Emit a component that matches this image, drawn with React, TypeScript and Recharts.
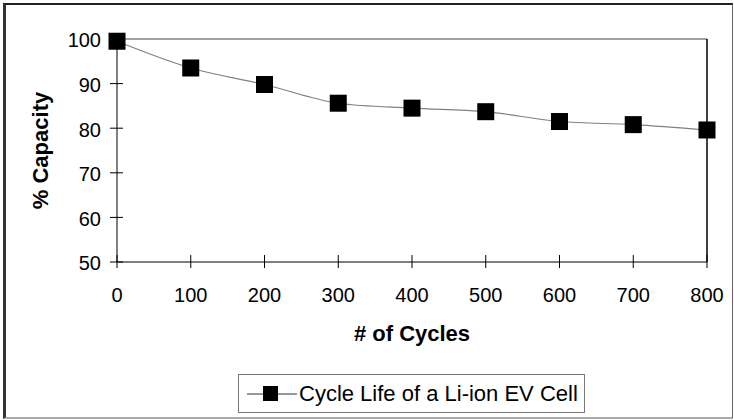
import React from 'react';
import { LineChart, Line, XAxis, YAxis, ReferenceLine, Legend } from 'recharts';

const cycles = [0, 100, 200, 300, 400, 500, 600, 700, 800];
const capacity = [99.5, 93.5, 89.8, 85.6, 84.5, 83.7, 81.5, 80.8, 79.6];
const xTicks = [0, 100, 200, 300, 400, 500, 600, 700, 800];
const yTicks = [50, 60, 70, 80, 90, 100];
const seriesName = 'Cycle Life of a Li-ion EV Cell';
const xTitle = '# of Cycles';
const yTitle = '% Capacity';

const data = cycles.map((c, i) => ({ cycles: c, capacity: capacity[i] }));

const FONT = '"Liberation Sans", Arial, Helvetica, sans-serif';

const XTick = (props: any) => {
  const { x, y, payload } = props;
  return (
    <g>
      <line x1={x} x2={x} y1={y - 7} y2={y + 6} stroke="#000" strokeWidth={1} />
      <text x={x} y={y + 40} textAnchor="middle" fontSize={20} fontFamily={FONT} fill="#000">
        {payload.value}
      </text>
    </g>
  );
};

const YTick = (props: any) => {
  const { x, y, payload } = props;
  return (
    <g>
      <line x1={x - 7} x2={x + 6} y1={y} y2={y} stroke="#000" strokeWidth={1} />
      <text x={x - 16} y={y} dy="0.42em" textAnchor="end" fontSize={20} fontFamily={FONT} fill="#000">
        {payload.value}
      </text>
    </g>
  );
};

const SquareDot = (props: any) => {
  const { cx, cy, index } = props;
  if (cx == null || cy == null) return null;
  return <rect key={`d-${index}`} x={cx - 8.5} y={cy - 8.5} width={17} height={17} fill="#000" />;
};

const LegendContent = () => (
  <div
    style={{
      width: 347,
      height: 39,
      boxSizing: 'border-box',
      border: '1px solid #777',
      background: '#fff',
      display: 'flex',
      alignItems: 'center',
      fontFamily: FONT,
      fontSize: 22,
      color: '#000',
    }}
  >
    <svg width={60} height={37} style={{ display: 'block' }}>
      <line x1={8} x2={58} y1={19} y2={19} stroke="#333" strokeWidth={1} />
      <rect x={24} y={11} width={15} height={15} fill="#000" />
    </svg>
    <span style={{ whiteSpace: 'nowrap' }}>{seriesName}</span>
  </div>
);

export default function App() {
  return (
    <div
      style={{
        position: 'absolute',
        left: 0,
        top: 0,
        width: 734,
        height: 420,
        background: '#fff',
      }}
    >
      <div
        style={{
          position: 'absolute',
          left: 3,
          top: 3,
          width: 730,
          height: 416,
          boxSizing: 'border-box',
          borderTop: '2px solid #222',
          borderLeft: '3px solid #333',
          borderBottom: '2px solid #aaa',
          borderRight: '1px solid #666',
        }}
      />
      <LineChart
        width={734}
        height={420}
        data={data}
        margin={{ top: 39, right: 27, left: 0, bottom: 98 }}
        style={{ position: 'absolute', left: 0, top: 0 }}
      >
        <XAxis
          dataKey="cycles"
          type="number"
          domain={[0, 800]}
          ticks={xTicks}
          interval={0}
          height={60}
          tickSize={0}
          tickMargin={0}
          tickLine={false}
          axisLine={{ stroke: '#000', strokeWidth: 1 }}
          tick={<XTick />}
          label={{
            content: (p: any) => {
              const vb = p.viewBox || {};
              return (
                <text
                  x={vb.x + vb.width / 2}
                  y={333}
                  dy="0.36em"
                  textAnchor="middle"
                  fontSize={22}
                  fontWeight="bold"
                  fontFamily={FONT}
                  fill="#000"
                >
                  {xTitle}
                </text>
              );
            },
          }}
        />
        <YAxis
          type="number"
          domain={[50, 100]}
          ticks={yTicks}
          interval={0}
          width={117}
          tickSize={0}
          tickMargin={0}
          tickLine={false}
          axisLine={{ stroke: '#000', strokeWidth: 1 }}
          tick={<YTick />}
          label={{
            content: (p: any) => {
              const vb = p.viewBox || {};
              const cy = vb.y + vb.height / 2;
              return (
                <text
                  x={40}
                  y={cy}
                  dy="0.36em"
                  textAnchor="middle"
                  transform={`rotate(-90, 40, ${cy})`}
                  fontSize={22}
                  fontWeight="bold"
                  fontFamily={FONT}
                  fill="#000"
                >
                  {yTitle}
                </text>
              );
            },
          }}
        />
        <ReferenceLine y={100} stroke="#808080" strokeWidth={1.5} ifOverflow="visible" />
        <ReferenceLine x={800} stroke="#000" strokeWidth={1.5} ifOverflow="visible" />
        <Legend
          layout="horizontal"
          verticalAlign="middle"
          align="center"
          wrapperStyle={{ position: 'absolute', left: 238, top: 374, width: 347, height: 39 }}
          content={<LegendContent />}
        />
        <Line
          type="monotone"
          dataKey="capacity"
          name={seriesName}
          stroke="#808080"
          strokeWidth={1.2}
          dot={<SquareDot />}
          activeDot={false}
          isAnimationActive={false}
        />
      </LineChart>
    </div>
  );
}
